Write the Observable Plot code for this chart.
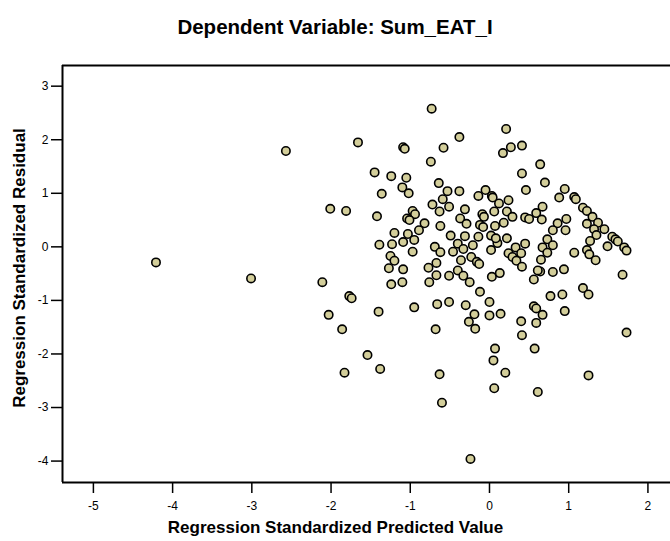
<!DOCTYPE html>
<html><head><meta charset="utf-8">
<script src="https://cdn.jsdelivr.net/npm/d3@7"></script>
<script src="https://cdn.jsdelivr.net/npm/@observablehq/plot@0.6"></script>
<style>
body{margin:0;background:#fff;font-family:"Liberation Sans",Arial,sans-serif;}
#title{width:670px;height:54px;line-height:54px;text-align:center;font-weight:bold;font-size:20.5px;color:#000;white-space:nowrap;}
#chart svg{display:block;}
</style></head><body>
<div id="title"></div>
<div id="chart"></div>
<script>
const titleText = "Dependent Variable: Sum_EAT_I";
const xLabel = "Regression Standardized Predicted Value";
const yLabel = "Regression Standardized Residual";
const xTicks = [-5, -4, -3, -2, -1, 0, 1, 2];
const yTicks = [-4, -3, -2, -1, 0, 1, 2, 3];
const xDomain = [-5.39, 2.285];
const yDomain = [-4.40, 3.386];

const predicted = [
  -4.21, -3.01, -2.57,
  -0.73, -1.66, -1.09, -1.07, -0.58, -0.38, 0.17, -0.74, -1.45, -1.24, -1.05, -1.10, -1.02, -1.36, -0.64, -0.53, -0.38, -0.14, -0.05, 0.03, 0.04,
  -0.59, -0.72, -0.51, -0.63, -0.31, -2.01, -1.81, -1.42, -0.97, -0.94, -1.04, -1.01, -0.82, -0.62, -0.37, -0.29, -0.09, -0.07, 0.06, -0.12, -0.08, 0.07,
  -0.89, -1.03, -1.20, -0.49, -0.31, -0.14, 0.02, 0.10, 0.08,
  -1.39, -1.23, -1.09, -0.95, -0.69, -0.40, -0.21, 0.02, -0.97, -1.25, -0.62, -0.46, -0.33,
  -1.20, -1.27, -1.09, -0.77, -0.67, -0.67, -0.51, -0.36, -0.23, -0.16, -0.13, -0.40, -0.33, -0.25, 0.03, 0.13,
  -1.24, -1.10, -0.76, -2.11, -1.77, -1.74, -0.12, -0.66, -0.51, -0.30, 0.00, -0.95, -1.40, -2.03, -0.19, -0.26, -0.18, 0.00, 0.14, -1.86, -0.68,
  0.07, 0.05, -1.54, -1.38, -1.83, -0.63, 0.06, -0.60, -0.24, 0.21, 0.61,
  0.27, 0.41, 0.64, 0.41, 0.70, 0.46, 0.24, 0.12, 0.95, 0.88, 1.07, 1.09, 1.18, 1.23, 0.67,
  0.22, 0.29, 0.59, 0.45, 0.50, 0.66, 0.97, 0.86, 0.80, 0.96, 1.30, 1.23, 1.37, 1.45, 1.32, 1.55, 1.35, 1.59, 1.62, 1.70, 1.73, 1.27, 1.49,
  0.18, 0.22, 0.45, 0.33, 0.73, 0.80, 0.67, 0.73, 1.07, 1.23, 1.26, 1.34,
  0.24, 0.29, 0.34, 0.40, 0.41, 0.65, 0.64, 0.61, 0.56, 0.80, 0.94,
  0.56, 0.59, 0.67, 0.59, 0.40, 0.41, 0.77, 0.92, 0.95, 1.18, 1.25, 1.68, 1.73, 0.20, 0.57, 1.25
];
const residual = [
  -0.29, -0.59, 1.79,
  2.58, 1.95, 1.86, 1.83, 1.85, 2.05, 1.75, 1.59, 1.39, 1.32, 1.29, 1.11, 1.00, 0.99, 1.19, 1.04, 1.04, 0.95, 1.06, 0.95, 0.92,
  0.89, 0.79, 0.75, 0.66, 0.70, 0.71, 0.67, 0.57, 0.67, 0.61, 0.53, 0.50, 0.44, 0.39, 0.53, 0.43, 0.61, 0.56, 0.66, 0.41, 0.37, 0.39,
  0.31, 0.24, 0.26, 0.21, 0.20, 0.19, 0.21, 0.07, 0.16,
  0.04, 0.05, 0.09, 0.13, 0.00, 0.06, 0.03, -0.06, -0.09, -0.17, -0.10, -0.09, -0.04,
  -0.26, -0.40, -0.42, -0.39, -0.30, -0.53, -0.54, -0.25, -0.19, -0.28, -0.32, -0.44, -0.54, -0.66, -0.56, -0.49,
  -0.70, -0.66, -0.66, -0.66, -0.92, -0.96, -0.84, -1.07, -1.03, -1.09, -1.03, -1.13, -1.21, -1.27, -1.26, -1.40, -1.53, -1.28, -1.25, -1.54, -1.54,
  -1.90, -2.12, -2.02, -2.28, -2.35, -2.38, -2.64, -2.91, -3.96, 2.20, -2.71,
  1.86, 1.89, 1.54, 1.37, 1.20, 1.06, 0.87, 0.81, 1.08, 0.92, 0.93, 0.89, 0.73, 0.67, 0.75,
  0.66, 0.56, 0.63, 0.55, 0.52, 0.51, 0.52, 0.44, 0.31, 0.31, 0.56, 0.43, 0.45, 0.33, 0.33, 0.19, 0.22, 0.14, 0.10, -0.01, -0.07, 0.11, 0.01,
  0.45, 0.16, 0.06, -0.01, 0.14, 0.03, -0.01, -0.11, -0.11, -0.06, -0.14, -0.25,
  -0.12, -0.19, -0.26, -0.12, -0.37, -0.24, -0.46, -0.44, -0.61, -0.47, -0.42,
  -1.11, -1.15, -1.27, -1.42, -1.39, -1.65, -0.92, -0.89, -1.20, -0.77, -0.89, -0.52, -1.60, -2.35, -1.90, -2.40
];

const points = predicted.map((x, i) => ({x, y: residual[i]}));

document.getElementById("title").textContent = titleText;

const font = '"Liberation Sans", Arial, sans-serif';
const chart = Plot.plot({
  width: 670,
  height: 487,
  marginTop: 11,
  marginBottom: 59,
  marginLeft: 62,
  marginRight: 0,
  style: {fontFamily: font, fontSize: "12px", color: "#000", background: "#fff", overflow: "visible"},
  x: {domain: xDomain, ticks: xTicks, tickSize: 11, tickPadding: 8, label: null, tickFormat: d => String(d)},
  y: {domain: yDomain, ticks: yTicks, tickSize: 11, tickPadding: 3, label: null, tickFormat: d => String(d)},
  marks: [
    Plot.ruleX([xDomain[0]], {stroke: "#000", strokeWidth: 2}),
    Plot.ruleY(yDomain, {stroke: "#000", strokeWidth: 2}),
    Plot.dot(points, {x: "x", y: "y", r: 4.2, fill: "#d3ce9a", stroke: "#000", strokeWidth: 1.6}),
    Plot.text([xLabel], {frameAnchor: "bottom", text: d => d, dx: -31, dy: 45, fontSize: 17, fontWeight: "bold", textAnchor: "middle", lineAnchor: "middle", fill: "#000"}),
    Plot.text([yLabel], {frameAnchor: "left", text: d => d, rotate: -90, dx: -43, dy: -6, fontSize: 17, fontWeight: "bold", textAnchor: "middle", lineAnchor: "middle", fill: "#000"})
  ]
});
document.getElementById("chart").appendChild(chart);
d3.select(chart).selectAll('[aria-label*="axis"] path, [aria-label*="axis"] line').attr("stroke-width", 1.5);
</script>
</body></html>
